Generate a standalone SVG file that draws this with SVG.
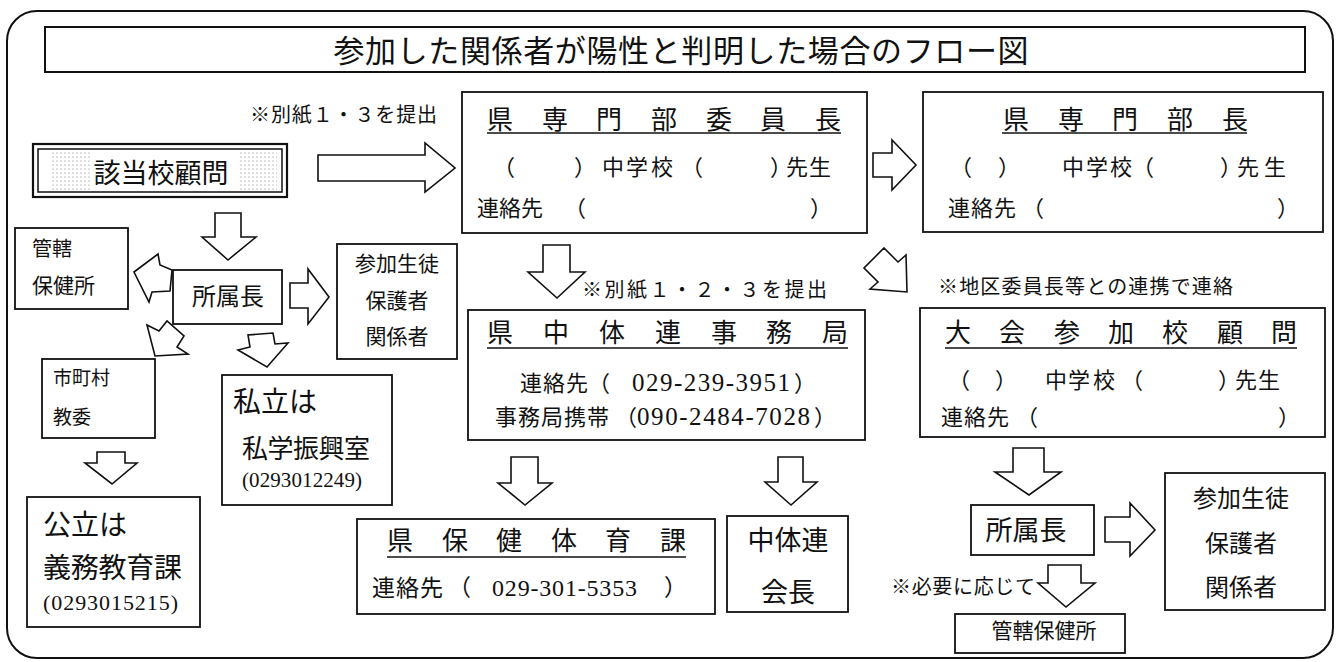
<svg xmlns="http://www.w3.org/2000/svg" width="1338" height="662" viewBox="0 0 1338 662">
<style>
.frame{fill:#fff;stroke:#111;stroke-width:2}
.box{fill:#fff;stroke:#111;stroke-width:1.8}
.arrow{fill:#fff;stroke:#111;stroke-width:1.6;stroke-linejoin:miter}
.ul{stroke:#111;stroke-width:1.5}
.t{font-family:'Noto Sans CJK JP',sans-serif;fill:#111}
.n{font-family:'Liberation Serif','Noto Sans CJK JP',serif;fill:#111}
</style>
<defs>
<pattern id="dots" width="4" height="4" patternUnits="userSpaceOnUse">
<rect width="4" height="4" fill="#fff"/>
<circle cx="1" cy="1" r="0.6" fill="#777"/>
</pattern>
</defs>
<rect width="1338" height="662" fill="#fff"/>
<rect class="frame" x="7" y="11" width="1326" height="647" rx="30" ry="30"/>

<g id="title">
<rect class="frame" x="45" y="27" width="1260" height="45"/>
<text class="t" x="681" y="62" font-size="31" text-anchor="middle" textLength="695" lengthAdjust="spacing">参加した関係者が陽性と判明した場合のフロー図</text>
</g>

<g id="label-1-3">
<text class="t" x="250" y="122" font-size="20" textLength="187" lengthAdjust="spacing">※別紙１・３を提出</text>
</g>

<g id="gaitou">
<rect x="33" y="144" width="254" height="53" fill="#fff" stroke="#111" stroke-width="2.2"/>
<rect x="38" y="149" width="244" height="43" fill="#fff" stroke="#111" stroke-width="1.5"/>
<rect x="52" y="152" width="38" height="38" fill="url(#dots)"/>
<rect x="240" y="152" width="37" height="38" fill="url(#dots)"/>
<text class="t" x="161" y="183" font-size="27" text-anchor="middle">該当校顧問</text>
</g>

<g id="senmon-iincho">
<rect class="box" x="462" y="92" width="405" height="141"/>
<text class="t" x="487 542 596 651 706 760 815" y="129" font-size="26">県専門部委員長</text>
<line class="ul" x1="487" y1="133" x2="841" y2="133"/>
<text class="t" x="493 574 602 626 651 681 770 786 809" y="175" font-size="22">（）中学校（）先生</text>
<text class="t" x="477 499 521 564 810" y="216" font-size="22">連絡先（）</text>
</g>

<g id="senmon-bucho">
<rect class="box" x="923" y="92" width="400" height="140"/>
<text class="t" x="1003 1058 1112 1167 1222" y="129" font-size="26">県専門部長</text>
<line class="ul" x1="1002" y1="133" x2="1247" y2="133"/>
<text class="t" x="950 998 1062 1086 1110 1132 1220 1237 1264" y="175" font-size="22">（）中学校（）先生</text>
<text class="t" x="948 971 994 1022 1277" y="216" font-size="22">連絡先（）</text>
</g>

<g id="label-1-2-3">
<text class="t" x="582" y="297" font-size="20" textLength="245" lengthAdjust="spacing">※別紙１・２・３を提出</text>
</g>

<g id="label-chiku">
<text class="t" x="938" y="294" font-size="20" textLength="295" lengthAdjust="spacing">※地区委員長等との連携で連絡</text>
</g>

<g id="chutairen-jimukyoku">
<rect class="box" x="468" y="310" width="397" height="130"/>
<text class="t" x="487 543 599 655 711 766 822" y="342" font-size="26">県中体連事務局</text>
<line class="ul" x1="487" y1="348" x2="848" y2="348"/>
<text class="t" x="520 543 566 588" y="391" font-size="22">連絡先（</text>
<text class="n" x="632" y="391" font-size="25" textLength="158" lengthAdjust="spacing">029-239-3951</text>
<text class="t" x="794" y="391" font-size="22">）</text>
<text class="t" x="495 518 541 564 587 615" y="425" font-size="22">事務局携帯（</text>
<text class="n" x="637" y="425" font-size="25" textLength="173" lengthAdjust="spacing">090-2484-7028</text>
<text class="t" x="814" y="425" font-size="22">）</text>
</g>

<g id="taikai-komon">
<rect class="box" x="920" y="308" width="405" height="129"/>
<text class="t" x="945 999 1054 1108 1162 1217 1271" y="342" font-size="26">大会参加校顧問</text>
<line class="ul" x1="945" y1="348" x2="1297" y2="348"/>
<text class="t" x="948 995 1045 1068 1093 1121 1218 1235 1258" y="388" font-size="22">（）中学校（）先生</text>
<text class="t" x="941 964 987 1016 1278" y="425" font-size="22">連絡先（）</text>
</g>

<g id="shozokucho-right">
<rect class="box" x="971" y="505" width="123" height="50"/>
<text class="t" x="1026" y="540" font-size="27" text-anchor="middle">所属長</text>
</g>

<g id="sanka-right">
<rect class="box" x="1165" y="473" width="160" height="137"/>
<text class="t" x="1241" y="507" font-size="24" text-anchor="middle">参加生徒</text>
<text class="t" x="1241" y="552" font-size="24" text-anchor="middle">保護者</text>
<text class="t" x="1241" y="596" font-size="24" text-anchor="middle">関係者</text>
</g>

<g id="label-hitsuyo">
<text class="t" x="891" y="594" font-size="20" textLength="144" lengthAdjust="spacing">※必要に応じて</text>
</g>

<g id="hokenjo-right">
<rect class="box" x="955" y="614" width="170" height="39"/>
<text class="t" x="1044" y="638" font-size="21" text-anchor="middle">管轄保健所</text>
</g>

<g id="hokenjo-left">
<rect class="box" x="15" y="228" width="113" height="81"/>
<text class="t" x="32" y="256" font-size="20">管轄</text>
<text class="t" x="32" y="293" font-size="21">保健所</text>
</g>

<g id="shozokucho-left">
<rect class="box" x="173" y="270" width="109" height="54"/>
<text class="t" x="228" y="305" font-size="24" text-anchor="middle">所属長</text>
</g>

<g id="sanka-left">
<rect class="box" x="337" y="244" width="120" height="115"/>
<text class="t" x="397" y="271" font-size="21" text-anchor="middle">参加生徒</text>
<text class="t" x="397" y="308" font-size="21" text-anchor="middle">保護者</text>
<text class="t" x="397" y="344" font-size="21" text-anchor="middle">関係者</text>
</g>

<g id="shichoson">
<rect class="box" x="42" y="359" width="113" height="79"/>
<text class="t" x="53" y="385" font-size="19">市町村</text>
<text class="t" x="53" y="424" font-size="19">教委</text>
</g>

<g id="shiritsu">
<rect class="box" x="222" y="375" width="170" height="130"/>
<text class="t" x="233" y="412" font-size="28">私立は</text>
<text class="t" x="242" y="458" font-size="26" textLength="128" lengthAdjust="spacing">私学振興室</text>
<text class="n" x="242" y="487" font-size="21" textLength="120" lengthAdjust="spacing">(0293012249)</text>
</g>

<g id="koritsu">
<rect class="box" x="27" y="497" width="173" height="130"/>
<text class="t" x="43" y="535" font-size="28">公立は</text>
<text class="t" x="43" y="578" font-size="28" textLength="139" lengthAdjust="spacing">義務教育課</text>
<text class="n" x="43" y="610" font-size="22" textLength="135" lengthAdjust="spacing">(0293015215)</text>
</g>

<g id="hoken-taiiku">
<rect class="box" x="357" y="519" width="358" height="95"/>
<text class="t" x="387 442 496 551 605 660" y="550" font-size="26">県保健体育課</text>
<line class="ul" x1="387" y1="557" x2="686" y2="557"/>
<text class="t" x="372 396 420 448" y="596" font-size="23">連絡先（</text>
<text class="n" x="492" y="596" font-size="24" textLength="145" lengthAdjust="spacing">029-301-5353</text>
<text class="t" x="664" y="596" font-size="23">）</text>
</g>

<g id="chutairen-kaicho">
<rect class="box" x="727" y="516" width="121" height="96"/>
<text class="t" x="788" y="550" font-size="27" text-anchor="middle">中体連</text>
<text class="t" x="788" y="602" font-size="27" text-anchor="middle">会長</text>
</g>

<g id="connectors">
<polygon class="arrow" points="318,155 425,155 425,143 455,168 425,192 425,181 318,181"/>
<polygon class="arrow" points="873,153 892,153 892,140 916,165 892,190 892,177 873,177"/>
<polygon class="arrow" points="884,248 898,262 906,255 907,292 870,289 878,282 864,268"/>
<polygon class="arrow" points="543,245 570,245 570,272 585,272 557,298 528,272 543,272"/>
<polygon class="arrow" points="1013,448 1044,448 1044,472 1061,472 1029,495 995,472 1013,472"/>
<polygon class="arrow" points="1105,517 1130,517 1130,503 1155,530 1130,556 1130,542 1105,542"/>
<polygon class="arrow" points="1048,565 1081,565 1081,583 1095,583 1066,607 1038,583 1048,583"/>
<polygon class="arrow" points="215,213 241,213 241,237 256,237 228,260 202,237 215,237"/>
<polygon class="arrow" points="290,283 308,283 308,269 329,297 308,324 308,308 290,308"/>
<polygon class="arrow" points="134,272 158,254 160,265 172,270 170,291 152,292 149,302"/>
<polygon class="arrow" points="147,325 159,331 167,321 184,336 177,347 188,354 155,356"/>
<polygon class="arrow" points="238,350 250,347 248,335 273,333 275,344 288,343 267,367"/>
<polygon class="arrow" points="97,452 125,452 125,463 137,463 112,484 85,463 97,463"/>
<polygon class="arrow" points="511,457 538,457 538,483 552,483 525,505 498,483 511,483"/>
<polygon class="arrow" points="778,457 803,457 803,482 817,482 791,505 765,482 778,482"/>
</g>
</svg>
